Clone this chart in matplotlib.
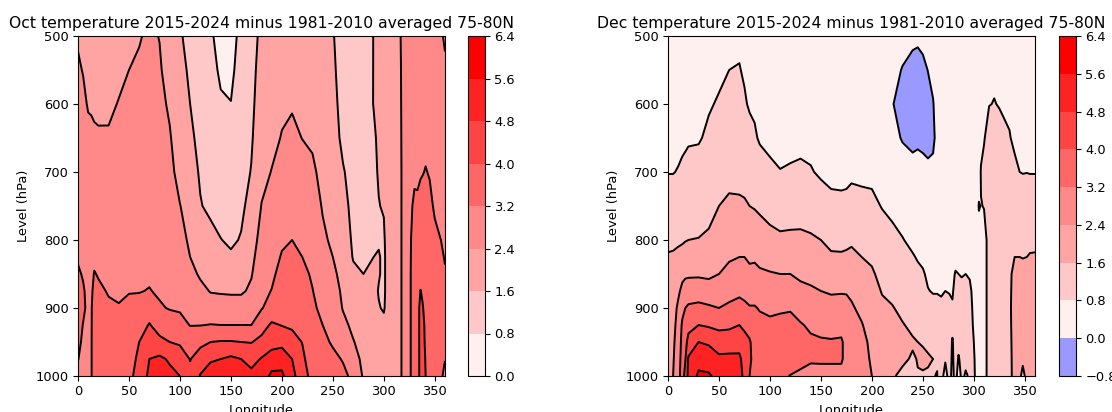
import numpy as np
import matplotlib
matplotlib.use("Agg")
import matplotlib.pyplot as plt

plt.rcParams['font.size'] = 9.4
plt.rcParams['xtick.major.size'] = 3.3
plt.rcParams['ytick.major.size'] = 3.3

#pressure levels, same for both panels
level = [500, 550, 600, 650, 700, 750, 800, 825, 850, 875, 900, 925, 950, 975, 1000]

#Oct anomaly, one row per longitude
oct_lon = [0, 5, 10, 13, 16, 20, 30, 40, 50, 60, 70, 80, 90, 100, 110, 120, 130, 140, 150, 160,
           170, 180, 190, 200, 210, 220, 230, 240, 250, 260, 270, 280, 290, 295, 300, 305, 316,
           320, 325, 330, 333, 336, 338, 341, 345, 350, 356, 360]
oct_temp = [
    [2.35, 2.46, 2.58, 2.7, 2.83, 2.96, 3.1, 3.16, 3.25, 3.3, 3.35, 3.32, 3.27, 3.21, 3.12],
    [2.3, 2.38, 2.5, 2.62, 2.75, 2.88, 3.02, 3.1, 3.17, 3.24, 3.26, 3.19, 3.15, 3.1, 3.05],
    [2.2, 2.28, 2.36, 2.52, 2.68, 2.83, 2.97, 3.02, 3.07, 3.1, 3.12, 3.12, 3.1, 3.08, 3.05],
    [2.15, 2.24, 2.35, 2.5, 2.65, 2.8, 2.95, 3.0, 3.05, 3.1, 3.15, 3.15, 3.15, 3.15, 3.15],
    [2.1, 2.2, 2.31, 2.48, 2.65, 2.8, 2.98, 3.08, 3.23, 3.35, 3.45, 3.5, 3.55, 3.55, 3.55],
    [2.05, 2.15, 2.26, 2.48, 2.65, 2.82, 2.99, 3.07, 3.16, 3.3, 3.42, 3.5, 3.55, 3.58, 3.6],
    [2.05, 2.15, 2.28, 2.47, 2.63, 2.78, 2.94, 3.01, 3.09, 3.16, 3.28, 3.42, 3.55, 3.65, 3.7],
    [2.15, 2.25, 2.43, 2.57, 2.7, 2.83, 2.97, 3.03, 3.09, 3.15, 3.22, 3.35, 3.5, 3.65, 3.75],
    [2.2, 2.4, 2.51, 2.63, 2.75, 2.87, 2.99, 3.05, 3.11, 3.18, 3.3, 3.45, 3.65, 3.8, 3.9],
    [2.35, 2.5, 2.6, 2.7, 2.8, 2.9, 3.0, 3.06, 3.12, 3.18, 3.35, 3.65, 4.0, 4.1, 4.15],
    [2.52, 2.6, 2.68, 2.76, 2.84, 2.93, 3.02, 3.07, 3.13, 3.22, 3.6, 4.05, 4.45, 4.8, 5.0],
    [2.38, 2.48, 2.58, 2.68, 2.78, 2.88, 2.98, 3.03, 3.08, 3.14, 3.25, 3.65, 4.2, 4.95, 5.2],
    [1.95, 2.1, 2.3, 2.46, 2.6, 2.74, 2.88, 2.95, 3.02, 3.09, 3.17, 3.45, 4.0, 4.7, 5.0],
    [1.65, 1.75, 1.88, 2.0, 2.15, 2.42, 2.6, 2.7, 2.85, 3.0, 3.13, 3.4, 3.9, 4.4, 4.8],
    [1.45, 1.52, 1.6, 1.72, 1.9, 2.1, 2.3, 2.4, 2.62, 2.85, 3.05, 3.18, 3.55, 3.97, 4.2],
    [1.25, 1.3, 1.36, 1.43, 1.52, 1.64, 1.85, 2.0, 2.3, 2.6, 2.85, 3.18, 3.8, 4.4, 4.85],
    [0.88, 0.97, 1.07, 1.18, 1.3, 1.45, 1.82, 2.0, 2.18, 2.36, 2.77, 3.22, 4.0, 4.7, 5.2],
    [0.6, 0.72, 0.86, 1.0, 1.15, 1.3, 1.62, 1.85, 2.09, 2.32, 2.78, 3.2, 4.05, 4.8, 5.3],
    [0.6, 0.7, 0.81, 0.95, 1.1, 1.28, 1.48, 1.7, 1.97, 2.3, 2.75, 3.2, 4.05, 4.95, 5.3],
    [0.95, 1.0, 1.1, 1.2, 1.33, 1.45, 1.65, 1.85, 2.08, 2.3, 2.75, 3.2, 4.0, 4.8, 5.2],
    [1.35, 1.4, 1.45, 1.52, 1.63, 1.85, 2.1, 2.22, 2.35, 2.52, 2.85, 3.2, 3.97, 4.55, 5.0],
    [1.75, 1.85, 1.95, 2.08, 2.22, 2.42, 2.63, 2.76, 2.88, 3.02, 3.15, 3.7, 4.2, 4.85, 5.1],
    [1.9, 2.0, 2.1, 2.25, 2.42, 2.63, 2.85, 2.96, 3.08, 3.22, 3.52, 4.1, 4.55, 5.1, 5.8],
    [2.05, 2.17, 2.3, 2.43, 2.67, 2.89, 3.11, 3.25, 3.4, 3.55, 3.75, 3.97, 4.55, 5.3, 5.75],
    [2.15, 2.25, 2.35, 2.53, 2.75, 2.98, 3.2, 3.32, 3.44, 3.55, 3.7, 3.9, 4.25, 4.8, 5.0],
    [2.15, 2.22, 2.3, 2.39, 2.64, 2.87, 3.09, 3.2, 3.36, 3.51, 3.67, 3.82, 3.98, 4.15, 4.4],
    [2.05, 2.12, 2.2, 2.3, 2.52, 2.72, 2.92, 3.02, 3.12, 3.22, 3.33, 3.43, 3.52, 3.6, 3.7],
    [1.95, 2.0, 2.05, 2.12, 2.2, 2.35, 2.52, 2.62, 2.75, 2.88, 3.02, 3.2, 3.3, 3.38, 3.45],
    [1.65, 1.72, 1.8, 1.88, 1.98, 2.1, 2.28, 2.4, 2.58, 2.75, 2.88, 3.0, 3.15, 3.3, 3.38],
    [1.25, 1.3, 1.36, 1.45, 1.65, 1.8, 1.95, 2.02, 2.12, 2.25, 2.35, 2.6, 2.9, 3.17, 3.3],
    [1.15, 1.2, 1.25, 1.3, 1.36, 1.42, 1.5, 1.56, 1.72, 1.88, 2.05, 2.22, 2.44, 2.7, 3.1],
    [1.15, 1.2, 1.25, 1.3, 1.35, 1.4, 1.46, 1.52, 1.6, 1.72, 1.85, 1.97, 2.1, 2.22, 2.3],
    [1.62, 1.62, 1.62, 1.5, 1.48, 1.48, 1.52, 1.6, 1.75, 1.85, 1.92, 1.98, 2.02, 2.1, 2.15],
    [1.85, 1.82, 1.78, 1.72, 1.65, 1.58, 1.52, 1.66, 1.66, 1.55, 1.65, 1.85, 1.95, 2.05, 2.1],
    [1.95, 1.95, 1.95, 1.95, 1.95, 1.65, 1.5, 1.45, 1.45, 1.45, 1.52, 1.8, 1.9, 2.0, 2.1],
    [2.0, 2.02, 2.02, 2.02, 2.05, 2.05, 2.05, 2.05, 2.05, 2.05, 2.05, 2.1, 2.15, 2.2, 2.2],
    [2.38, 2.36, 2.35, 2.34, 2.33, 2.33, 2.33, 2.33, 2.33, 2.33, 2.33, 2.33, 2.33, 2.33, 2.33],
    [2.55, 2.55, 2.55, 2.55, 2.55, 2.55, 2.55, 2.55, 2.55, 2.55, 2.55, 2.55, 2.55, 2.55, 2.55],
    [2.9, 2.9, 2.9, 2.95, 3.0, 3.05, 3.05, 3.05, 3.05, 3.05, 3.05, 3.05, 3.05, 3.05, 3.05],
    [2.9, 2.92, 2.95, 3.02, 3.1, 3.3, 3.5, 3.55, 3.6, 3.6, 3.6, 3.6, 3.6, 3.6, 3.6],
    [2.9, 2.95, 3.0, 3.05, 3.12, 3.27, 3.5, 3.55, 3.6, 3.6, 3.6, 3.6, 3.6, 3.6, 3.6],
    [2.9, 2.95, 3.0, 3.07, 3.16, 3.35, 3.55, 3.6, 3.75, 4.02, 4.3, 4.3, 4.3, 4.3, 4.3],
    [2.9, 2.95, 3.0, 3.08, 3.18, 3.37, 3.55, 3.6, 3.7, 3.9, 4.05, 4.2, 4.2, 4.2, 4.2],
    [2.92, 2.97, 3.02, 3.1, 3.22, 3.38, 3.55, 3.6, 3.65, 3.7, 3.8, 3.85, 3.9, 3.97, 4.0],
    [2.85, 2.9, 2.95, 3.03, 3.17, 3.3, 3.45, 3.55, 3.6, 3.6, 3.6, 3.6, 3.6, 3.6, 3.6],
    [2.75, 2.8, 2.85, 2.93, 3.02, 3.14, 3.3, 3.4, 3.5, 3.55, 3.6, 3.6, 3.55, 3.5, 3.45],
    [2.45, 2.52, 2.6, 2.72, 2.85, 3.0, 3.2, 3.3, 3.4, 3.45, 3.5, 3.45, 3.4, 3.3, 3.25],
    [2.35, 2.46, 2.58, 2.7, 2.83, 2.96, 3.1, 3.16, 3.25, 3.3, 3.35, 3.32, 3.27, 3.21, 3.12],
]

#Dec anomaly
dec_lon = [0, 5, 10, 14, 17, 20, 30, 40, 50, 60, 70, 75, 80, 85, 90, 100, 110, 120, 130, 140, 150,
           160, 170, 175, 180, 190, 200, 210, 220, 230, 240, 245, 250, 255, 260, 264, 268, 272,
           276, 279, 282, 285, 288, 292, 296, 300, 303, 305, 307, 310, 315, 320, 325, 330, 335,
           340, 345, 348, 352, 355, 360]
dec_temp = [
    [.3, .4, .5, .65, .78, 1.12, 1.47, 1.65, 1.8, 1.95, 2.05, 2.1, 2.15, 2.15, 2.15],
    [.3, .4, .5, .65, .78, 1.12, 1.48, 1.67, 1.8, 1.95, 2.05, 2.15, 2.25, 2.33, 2.4],
    [.3, .4, .5, .65, .83, 1.17, 1.5, 1.75, 2.0, 2.25, 2.55, 2.7, 2.8, 2.85, 2.9],
    [.35, .45, .55, .68, .9, 1.25, 1.55, 1.75, 2.2, 2.6, 3.0, 3.3, 3.4, 3.5, 3.6],
    [.35, .45, .55, .7, .95, 1.27, 1.58, 1.8, 2.25, 2.8, 3.2, 3.45, 3.75, 3.95, 4.3],
    [.4, .5, .6, .75, .95, 1.3, 1.6, 1.8, 2.27, 2.85, 3.3, 3.75, 4.25, 4.9, 5.0],
    [.45, .55, .65, .75, 1.02, 1.32, 1.62, 1.95, 2.3, 2.8, 3.4, 4.0, 4.8, 5.3, 5.75],
    [.55, .65, .75, .9, 1.08, 1.4, 1.7, 1.95, 2.25, 2.75, 3.3, 3.9, 4.7, 5.2, 5.7],
    [.6, .7, .85, 1.1, 1.35, 1.6, 2.0, 2.2, 2.4, 2.8, 3.2, 3.8, 4.42, 4.95, 5.37],
    [.7, .8, 1.0, 1.2, 1.4, 1.72, 2.12, 2.32, 2.6, 2.95, 3.33, 3.85, 4.42, 4.98, 5.2],
    [.72, .82, 1.0, 1.2, 1.4, 1.7, 2.15, 2.4, 2.72, 3.05, 3.45, 4.0, 4.5, 4.95, 5.1],
    [.65, .75, .85, 1.1, 1.35, 1.68, 2.15, 2.4, 2.7, 3.0, 3.35, 3.85, 4.25, 4.5, 4.6],
    [.55, .65, .75, .95, 1.2, 1.6, 2.05, 2.3, 2.55, 2.9, 3.25, 3.6, 4.1, 4.15, 4.0],
    [.5, .6, .7, .88, 1.2, 1.55, 2.05, 2.3, 2.6, 2.9, 3.25, 3.45, 3.6, 3.7, 3.7],
    [.45, .55, .65, .73, 1.1, 1.48, 1.95, 2.22, 2.5, 2.85, 3.15, 3.4, 3.55, 3.65, 3.7],
    [.4, .5, .55, .65, .92, 1.35, 1.8, 2.1, 2.45, 2.7, 3.05, 3.35, 3.55, 3.65, 3.65],
    [.4, .45, .5, .6, .82, 1.25, 1.72, 2.0, 2.4, 2.75, 3.1, 3.4, 3.6, 3.5, 3.3],
    [.4, .45, .5, .6, .87, 1.25, 1.75, 2.05, 2.4, 2.75, 3.13, 3.45, 3.6, 3.5, 3.18],
    [.4, .45, .5, .6, .93, 1.32, 1.73, 1.95, 2.25, 2.6, 2.95, 3.25, 3.5, 3.35, 3.1],
    [.4, .45, .5, .6, .85, 1.28, 1.68, 1.93, 2.2, 2.5, 2.85, 3.1, 3.3, 3.27, 3.0],
    [.4, .45, .5, .6, .7, 1.15, 1.6, 1.87, 2.13, 2.4, 2.7, 3.0, 3.27, 3.28, 3.0],
    [.4, .45, .5, .55, .65, .95, 1.45, 1.68, 2.0, 2.33, 2.65, 2.97, 3.25, 3.28, 3.0],
    [.4, .45, .5, .55, .62, .95, 1.37, 1.7, 2.0, 2.35, 2.65, 2.93, 3.3, 3.3, 2.95],
    [.4, .45, .5, .55, .62, .98, 1.43, 1.72, 2.03, 2.35, 2.6, 2.8, 2.95, 2.95, 2.85],
    [.4, .45, .5, .55, .65, 1.1, 1.5, 1.75, 2.0, 2.25, 2.5, 2.7, 2.85, 2.85, 2.8],
    [.4, .45, .5, .55, .65, 1.0, 1.4, 1.6, 1.8, 2.0, 2.2, 2.45, 2.65, 2.7, 2.7],
    [.4, .45, .5, .5, .65, .95, 1.3, 1.5, 1.68, 1.8, 1.95, 2.05, 2.2, 2.3, 2.4],
    [.3, .35, .4, .45, .55, .77, 1.1, 1.25, 1.42, 1.57, 1.7, 1.85, 1.95, 2.05, 2.1],
    [.2, .12, .05, .12, .3, .65, .97, 1.15, 1.3, 1.47, 1.63, 1.75, 1.8, 1.75, 1.65],
    [.15, -.02, -.35, -.03, .2, .5, .83, 1.0, 1.2, 1.35, 1.48, 1.63, 1.75, 1.68, 1.5],
    [.25, -.35, -.6, -.15, .2, .35, .65, .85, 1.02, 1.2, 1.35, 1.5, 1.65, 1.55, 1.35],
    [.2, -.4, -.7, -.1, .2, .35, .6, .75, .93, 1.12, 1.3, 1.45, 1.6, 1.62, 1.58],
    [.3, -.25, -.6, -.12, .15, .32, .55, .7, .85, 1.05, 1.25, 1.42, 1.56, 1.7, 1.55],
    [.15, .02, -.35, -.15, .1, .28, .5, .62, .72, .82, 1.02, 1.25, 1.45, 1.68, 1.52],
    [.2, .1, -.02, -.1, .12, .25, .45, .55, .65, .77, .95, 1.2, 1.42, 1.6, 1.58],
    [.25, .2, .15, .15, .2, .3, .45, .55, .65, .77, .95, 1.15, 1.35, 1.55, 1.62],
    [.3, .3, .3, .3, .3, .35, .5, .55, .65, .75, .9, 1.05, 1.15, 1.2, 1.0],
    [.3, .3, .3, .3, .3, .35, .5, .55, .65, .8, .95, 1.0, .95, .85, .6],
    [.3, .3, .3, .3, .3, .35, .5, .55, .65, .78, .9, 1.0, 1.05, 1.05, 1.0],
    [.3, .3, .3, .3, .3, .35, .5, .55, .65, .75, .85, .95, .75, .7, .65],
    [.3, .3, .3, .3, .3, .35, .5, .6, .85, .95, 1.0, 1.05, 1.05, 1.05, 1.0],
    [.3, .3, .3, .3, .3, .35, .55, .62, .8, .95, 1.0, 1.0, .95, .75, .55],
    [.3, .3, .3, .3, .3, .35, .55, .62, .78, .88, .95, .95, .95, .95, .9],
    [.3, .3, .3, .3, .3, .35, .55, .62, .8, .9, .95, .95, .95, .9, .75],
    [.3, .3, .3, .3, .3, .35, .5, .6, .75, .9, .95, .95, .9, .85, .85],
    [.3, .3, .3, .3, .3, .4, .5, .55, .6, .65, .7, .75, .8, .83, .85],
    [.3, .3, .3, .3, .35, .55, .5, .5, .5, .5, .55, .6, .65, .7, .7],
    [.3, .3, .3, .35, .45, .85, .5, .5, .5, .5, .55, .6, .6, .6, .6],
    [.4, .4, .4, .6, .85, .78, .5, .5, .5, .5, .5, .5, .5, .5, .5],
    [.45, .45, .55, .75, 1.0, .82, .6, .6, .6, .6, .6, .6, .6, .6, .6],
    [.6, .62, .78, 1.1, 1.15, 1.05, 1.0, 1.0, 1.0, 1.0, 1.0, 1.0, 1.0, 1.0, 1.0],
    [.65, .7, .82, 1.1, 1.25, 1.25, 1.25, 1.25, 1.25, 1.25, 1.25, 1.25, 1.25, 1.25, 1.25],
    [.6, .68, .77, 1.0, 1.2, 1.3, 1.35, 1.35, 1.4, 1.4, 1.4, 1.4, 1.4, 1.4, 1.4],
    [.55, .62, .72, .9, 1.15, 1.35, 1.42, 1.45, 1.48, 1.5, 1.5, 1.5, 1.5, 1.5, 1.5],
    [.5, .6, .7, .83, 1.05, 1.3, 1.45, 1.5, 1.5, 1.5, 1.5, 1.48, 1.45, 1.42, 1.4],
    [.45, .5, .6, .7, .92, 1.2, 1.5, 1.6, 1.75, 1.8, 1.85, 1.85, 1.85, 1.85, 1.85],
    [.4, .45, .55, .65, .8, 1.15, 1.5, 1.6, 1.8, 1.9, 2.0, 2.0, 1.95, 1.75, 1.7],
    [.4, .45, .55, .65, .78, 1.15, 1.48, 1.58, 1.8, 1.9, 2.0, 2.0, 1.95, 1.7, 1.45],
    [.3, .4, .5, .65, .79, 1.14, 1.5, 1.6, 1.8, 1.95, 2.05, 2.05, 2.0, 1.85, 1.75],
    [.3, .4, .5, .65, .78, 1.13, 1.5, 1.63, 1.8, 1.95, 2.05, 2.1, 2.1, 2.1, 2.1],
    [.3, .4, .5, .65, .78, 1.12, 1.47, 1.65, 1.8, 1.95, 2.05, 2.1, 2.15, 2.15, 2.15],
]

oct_levels = [0.0, 0.8, 1.6, 2.4, 3.2, 4.0, 4.8, 5.6, 6.4]
dec_levels = [-0.8, 0.0, 0.8, 1.6, 2.4, 3.2, 4.0, 4.8, 5.6, 6.4]
reds = ['#fff0f0', '#ffc8c8', '#ffa3a3', '#ff8888', '#ff6666', '#ff4444', '#ff2222', '#ff0000']
W, H = 1112, 412


def panel(box, cbox, lon, temp, levels, colours, title):
    ax = fig.add_axes([box[0]/W, 1-box[3]/H, (box[1]-box[0])/W, (box[3]-box[2])/H])
    cax = fig.add_axes([cbox[0]/W, 1-box[3]/H, (cbox[1]-cbox[0])/W, (box[3]-box[2])/H])
    z = np.array(temp).T
    cf = ax.contourf(lon, level, z, levels=levels, colors=colours)
    ax.contour(lon, level, z, levels=levels, colors='k', linewidths=1.4, linestyles='solid')
    ax.set_xlim(0, 360)
    ax.set_ylim(1000, 500)
    ax.set_xticks(range(0, 351, 50))
    ax.set_xlabel('Longitude')
    ax.set_ylabel('Level (hPa)')
    ax.set_title(title, pad=5.5)
    fig.colorbar(cf, cax=cax, ticks=levels)


fig = plt.figure(figsize=(W/100, H/100), dpi=100)
panel((78, 445, 36, 376), (468, 485), oct_lon, oct_temp, oct_levels, reds,
      'Oct temperature 2015-2024 minus 1981-2010 averaged 75-80N')
panel((668, 1035, 36, 376), (1059, 1076), dec_lon, dec_temp, dec_levels, ['#9999ff'] + reds,
      'Dec temperature 2015-2024 minus 1981-2010 averaged 75-80N')
plt.savefig('out.png', dpi=100)
